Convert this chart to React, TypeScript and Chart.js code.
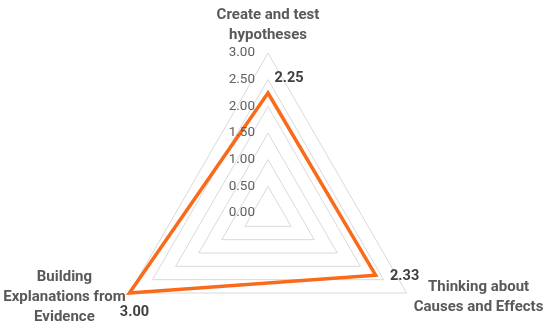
import React, { useEffect, useRef } from "react";
import { Chart, registerables } from "chart.js";

Chart.register(...registerables);

const categories: string[][] = [
  ["Create and test", "hypotheses"],
  ["Thinking about", "Causes and Effects"],
  ["Building", "Explanations from", "Evidence"],
];
const seriesValues: number[] = [2.25, 2.33, 3.0];
const tickValues: number[] = [0, 0.5, 1, 1.5, 2, 2.5, 3];

const FONT = "Roboto, 'Liberation Sans', sans-serif";

const labelPlugin = {
  id: "customLabels",
  afterDatasetsDraw(chart: any) {
    const ctx = chart.ctx;
    const scale = chart.scales.r;
    ctx.save();
    // tick labels
    ctx.font = `13.5px ${FONT}`;
    ctx.fillStyle = "#5f5f5f";
    ctx.textAlign = "right";
    ctx.textBaseline = "middle";
    tickValues.forEach((v) => {
      const y = scale.yCenter - scale.getDistanceFromCenterForValue(v);
      ctx.fillText(v.toFixed(2), scale.xCenter - 13, y);
    });
    // point (category) labels
    const plOff = [
      { dx: 0, dy: -38 },
      { dx: 72, dy: -6 },
      { dx: -65, dy: -16 },
    ];
    ctx.font = `bold 15px ${FONT}`;
    ctx.fillStyle = "#595959";
    ctx.textAlign = "center";
    categories.forEach((lines, i) => {
      const p = scale.getPointPosition(i, scale.drawingArea);
      lines.forEach((line, j) => {
        ctx.fillText(line, p.x + plOff[i].dx, p.y + plOff[i].dy + j * 20);
      });
    });
    // data labels
    const meta = chart.getDatasetMeta(0);
    const dlOff = [
      { dx: 21, dy: -15 },
      { dx: 29, dy: 1 },
      { dx: 5, dy: 19 },
    ];
    ctx.font = `bold 14.5px ${FONT}`;
    ctx.fillStyle = "#404040";
    meta.data.forEach((el: any, i: number) => {
      ctx.fillText(seriesValues[i].toFixed(2), el.x + dlOff[i].dx, el.y + dlOff[i].dy);
    });
    ctx.restore();
  },
};

export default function App() {
  const ref = useRef<HTMLCanvasElement>(null);
  useEffect(() => {
    if (!ref.current) return;
    const chart = new Chart(ref.current, {
      type: "radar",
      data: {
        labels: categories.map((c) => c.join(" ")),
        datasets: [
          {
            data: seriesValues,
            borderColor: "#F96A1B",
            backgroundColor: "rgba(0,0,0,0)",
            borderWidth: 3.5,
            borderJoinStyle: "miter",
            pointRadius: 0,
            pointHoverRadius: 0,
            fill: false,
          },
        ],
      },
      options: {
        animation: false,
        responsive: true,
        maintainAspectRatio: false,
        layout: { padding: { top: 53, bottom: 7, left: 108, right: 122 } },
        plugins: { legend: { display: false }, tooltip: { enabled: false } },
        scales: {
          r: {
            min: 0,
            max: 3,
            ticks: { stepSize: 0.5, display: false },
            grid: { color: "#D9D9D9", lineWidth: 1 },
            angleLines: { display: false },
            pointLabels: { display: false },
          },
        },
      },
      plugins: [labelPlugin],
    });
    return () => chart.destroy();
  }, []);
  return (
    <div style={{ position: "fixed", left: 0, top: 0, width: 550, height: 380, background: "#fff" }}>
      <canvas ref={ref} />
    </div>
  );
}
